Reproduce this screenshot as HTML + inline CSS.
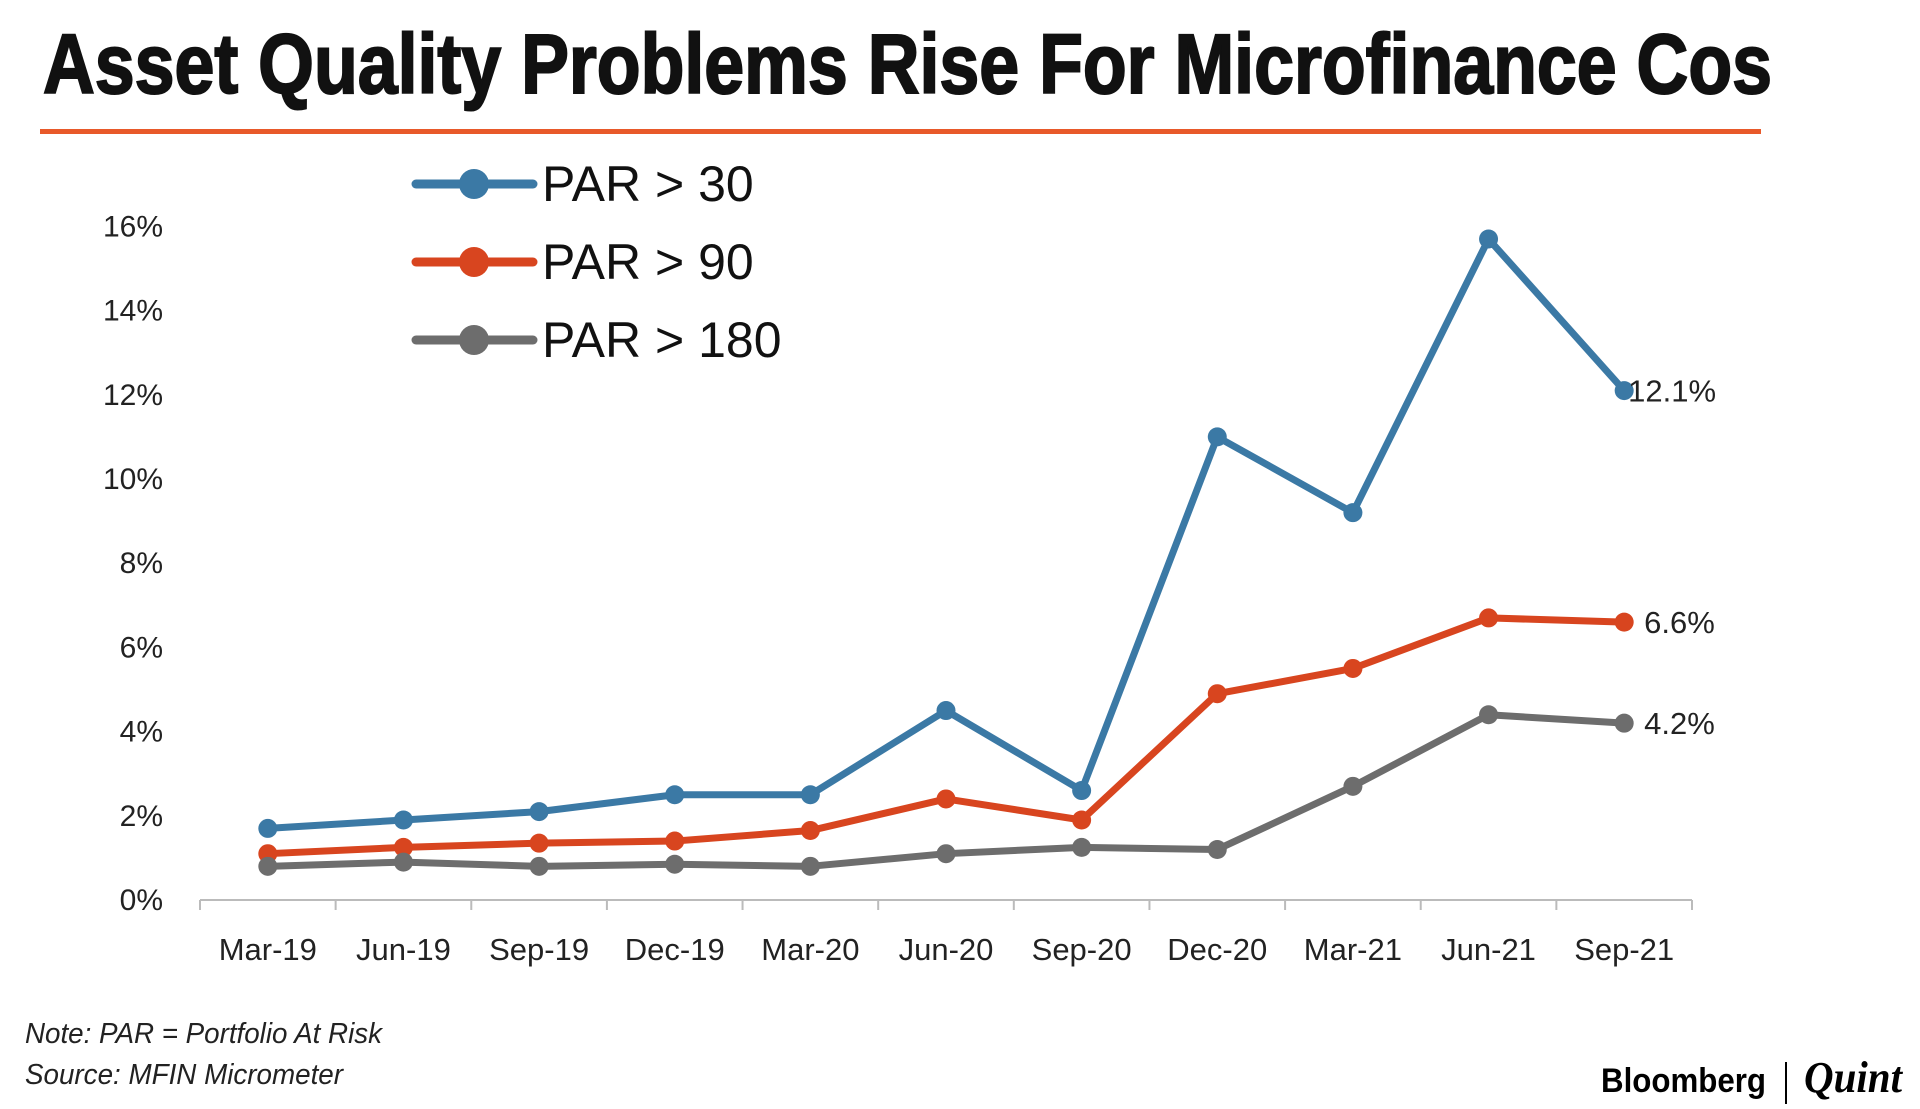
<!DOCTYPE html>
<html><head><meta charset="utf-8"><style>
html,body{margin:0;padding:0;background:#fff;}
svg{display:block;font-family:"Liberation Sans",sans-serif;}
</style></head><body>
<svg id="chart" width="1920" height="1109" viewBox="0 0 1920 1109">
<text x="43" y="93" font-size="84" font-weight="bold" fill="#111" stroke="#111" stroke-width="2" textLength="1729" lengthAdjust="spacingAndGlyphs">Asset Quality Problems Rise For Microfinance Cos</text>
<rect x="40" y="129" width="1721" height="5" fill="#e8592a"/>
<g id="legend"></g>
<g id="yaxis"></g>
<g id="xaxis"></g>
<g id="series"></g>
<text x="25" y="1043" font-size="29" font-style="italic" fill="#222" textLength="357" lengthAdjust="spacingAndGlyphs">Note: PAR = Portfolio At Risk</text>
<text x="25" y="1084" font-size="29" font-style="italic" fill="#222" textLength="318" lengthAdjust="spacingAndGlyphs">Source: MFIN Micrometer</text>
<text x="1601" y="1092" font-size="34" font-weight="bold" fill="#000" textLength="165" lengthAdjust="spacingAndGlyphs">Bloomberg</text>
<rect x="1785" y="1062" width="2" height="42" fill="#000"/>
<text x="1804" y="1092" font-size="44" font-style="italic" font-weight="bold" font-family="Liberation Serif,serif" fill="#000" textLength="98" lengthAdjust="spacingAndGlyphs">Quint</text>
</svg>
<script>
const categories=["Mar-19","Jun-19","Sep-19","Dec-19","Mar-20","Jun-20","Sep-20","Dec-20","Mar-21","Jun-21","Sep-21"];
const par30=[1.7,1.9,2.1,2.5,2.5,4.5,2.6,11.0,9.2,15.7,12.1];
const par90=[1.1,1.25,1.35,1.4,1.65,2.4,1.9,4.9,5.5,6.7,6.6];
const par180=[0.8,0.9,0.8,0.85,0.8,1.1,1.25,1.2,2.7,4.4,4.2];
const yTicks=[0,2,4,6,8,10,12,14,16];
const seriesNames=["PAR > 30","PAR > 90","PAR > 180"];
const endLabels=["12.1%","6.6%","4.2%"];
const NS="http://www.w3.org/2000/svg";
const x0=200,x1=1692,yBase=900,yPer=42.1;
const step=(x1-x0)/categories.length;
function xs(i){return x0+step*(i+0.5);}
function ys(v){return yBase-v*yPer;}
function mk(tag,attrs,parent){const e=document.createElementNS(NS,tag);for(const k in attrs)e.setAttribute(k,attrs[k]);parent.appendChild(e);return e;}
const yg=document.getElementById('yaxis'),xg=document.getElementById('xaxis'),sg=document.getElementById('series'),lg=document.getElementById('legend');
yTicks.forEach(t=>{const e=mk('text',{x:163,y:ys(t)+10,'font-size':30,'text-anchor':'end',fill:'#222'},yg);e.textContent=t+'%';

});
const ax=mk('line',{x1:x0,x2:x1,y1:yBase,y2:yBase,stroke:'#bbb','stroke-width':2},xg);


for(let i=0;i<=categories.length;i++){const t=mk('line',{x1:x0+step*i,x2:x0+step*i,y1:yBase,y2:yBase+10,stroke:'#bbb','stroke-width':2},xg);

}
categories.forEach((c,i)=>{const e=mk('text',{x:xs(i),y:960,'font-size':31,'text-anchor':'middle',fill:'#222'},xg);e.textContent=c;

});
const colors=["#3b79a5","#d8451f","#6d6d6d"];
[par30,par90,par180].forEach((d,s)=>{
 const p=mk('polyline',{points:d.map((v,i)=>xs(i)+','+ys(v)).join(' '),fill:'none',stroke:colors[s],'stroke-width':7,'stroke-linejoin':'round'},sg);
 
 
 d.forEach((v,i)=>{const c=mk('circle',{cx:xs(i),cy:ys(v),r:9.5,fill:colors[s]},sg);
 
 });
 const last=d.length-1;
 const lt=mk('text',{x:xs(last)+(s==0?4:20),y:ys(d[last])+11,'font-size':31,fill:'#222'},sg);lt.textContent=endLabels[s];
 
 
 const ly=184+s*78;
 const ll=mk('line',{x1:416,x2:533,y1:ly,y2:ly,stroke:colors[s],'stroke-width':9,'stroke-linecap':'round'},lg);
 
 
 const lc=mk('circle',{cx:474,cy:ly,r:15,fill:colors[s]},lg);
 
 
 const tx=mk('text',{x:542,y:ly+17,'font-size':50,fill:'#111'},lg);tx.textContent=seriesNames[s];
 
 
});
</script>
</body></html>
